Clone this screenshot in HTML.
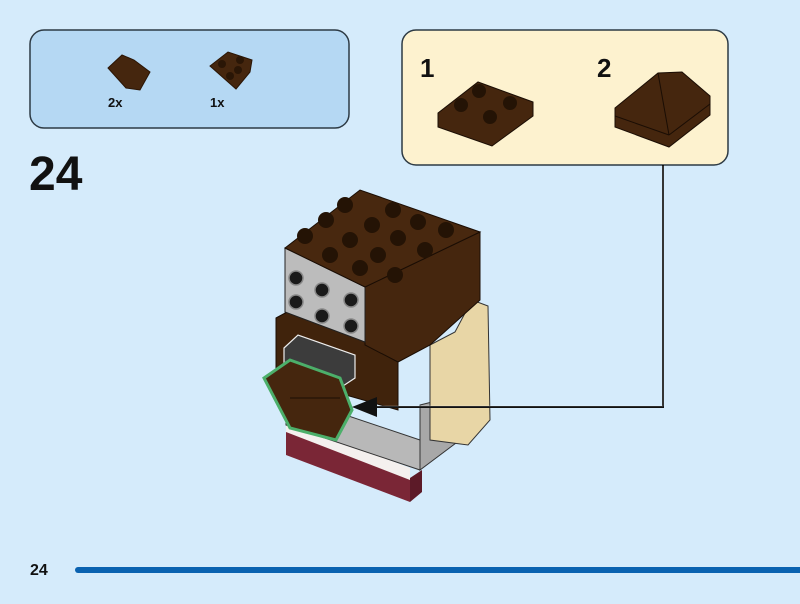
<!DOCTYPE html>
<html><head><style>
html,body{margin:0;padding:0;background:#d5ebfb;}
svg{display:block}
text{font-family:"Liberation Sans",sans-serif;font-weight:bold;fill:#111}
</style></head><body>
<svg width="800" height="604" viewBox="0 0 800 604" xmlns="http://www.w3.org/2000/svg">
<rect width="800" height="604" fill="#d5ebfb"/>
<!-- parts box -->
<rect x="30" y="30" width="319" height="98" rx="14" fill="#b5d8f3" stroke="#2d3a44" stroke-width="1.5"/>
<polygon points="108,68 122,55 134,60 150,72 140,90 126,88" fill="#45260e" stroke="#2a1505" stroke-width="1"/>
<polygon points="210,66 228,52 252,60 250,72 236,89" fill="#45260e" stroke="#2a1505" stroke-width="1"/>
<circle cx="222" cy="64" r="4" fill="#2a1606"/><circle cx="240" cy="60" r="4" fill="#2a1606"/><circle cx="238" cy="70" r="4" fill="#2a1606"/><circle cx="230" cy="76" r="4" fill="#2a1606"/>
<text x="108" y="107" font-size="13">2x</text>
<text x="210" y="107" font-size="13">1x</text>
<text x="29" y="190" font-size="48">24</text>
<!-- sub assembly box -->
<rect x="402" y="30" width="326" height="135" rx="14" fill="#fdf2cf" stroke="#2d3a44" stroke-width="1.5"/>
<text x="420" y="77" font-size="26">1</text>
<text x="597" y="77" font-size="26">2</text>
<polygon points="438,113 478,82 533,102 533,116 492,146 438,127" fill="#45260e" stroke="#1a0d04" stroke-width="1"/>
<circle cx="479" cy="91" r="7" fill="#241305"/><circle cx="461" cy="105" r="7" fill="#241305"/><circle cx="510" cy="103" r="7" fill="#241305"/><circle cx="490" cy="117" r="7" fill="#241305"/>
<polygon points="615,108 658,73 682,72 710,96 710,115 669,147 615,127" fill="#45260e" stroke="#1a0d04" stroke-width="1"/>
<line x1="615" y1="116" x2="669" y2="135" stroke="#1a0d04"/><line x1="669" y1="135" x2="710" y2="104" stroke="#1a0d04"/>
<line x1="658" y1="73" x2="669" y2="135" stroke="#1a0d04"/>
<!-- model -->
<polygon points="286,430 410,478 410,502 286,455" fill="#7a2636"/>
<polygon points="410,478 422,470 422,492 410,502" fill="#5c1a28"/>
<polygon points="286,420 410,468 410,480 286,432" fill="#f4f0ee"/>
<polygon points="286,395 420,440 420,470 286,425" fill="#b8b8b8" stroke="#333" stroke-width="1"/>
<polygon points="420,405 460,395 460,440 420,470" fill="#a8a8a8" stroke="#333" stroke-width="1"/>
<polygon points="430,345 455,332 472,300 488,306 490,420 468,445 430,440" fill="#e8d6a6" stroke="#333" stroke-width="1"/>
<polygon points="276,318 300,305 398,345 398,410 276,375" fill="#40230c" stroke="#1a0d04" stroke-width="1"/>
<polygon points="365,287 480,232 480,300 430,345 398,362 365,345" fill="#45260e" stroke="#1a0d04" stroke-width="1"/>
<polygon points="285,248 365,287 365,342 285,312" fill="#bcbcbc" stroke="#222" stroke-width="1"/>
<g fill="#1a1a1a" stroke="#888" stroke-width="1.5">
<circle cx="296" cy="278" r="7"/><circle cx="322" cy="290" r="7"/><circle cx="296" cy="302" r="7"/><circle cx="322" cy="316" r="7"/>
<circle cx="351" cy="300" r="7"/><circle cx="351" cy="326" r="7"/>
</g>
<polygon points="285,248 360,190 480,232 365,287" fill="#48280f" stroke="#1a0d04" stroke-width="1"/>
<g fill="#241305">
<circle cx="345" cy="205" r="8"/><circle cx="393" cy="210" r="8"/><circle cx="326" cy="220" r="8"/><circle cx="372" cy="225" r="8"/><circle cx="418" cy="222" r="8"/>
<circle cx="305" cy="236" r="8"/><circle cx="350" cy="240" r="8"/><circle cx="398" cy="238" r="8"/><circle cx="446" cy="230" r="8"/>
<circle cx="330" cy="255" r="8"/><circle cx="378" cy="255" r="8"/><circle cx="425" cy="250" r="8"/><circle cx="360" cy="268" r="8"/><circle cx="395" cy="275" r="8"/>
</g>
<polygon points="284,348 298,335 355,355 355,378 340,388 284,366" fill="#3c3c3c" stroke="#eee" stroke-width="1.2"/>
<polygon points="264,378 290,360 340,378 352,410 336,440 290,428" fill="#45260e" stroke="#4caf6a" stroke-width="3"/>
<line x1="290" y1="398" x2="340" y2="398" stroke="#1a0d04"/>
<!-- connector (on top) -->
<polyline points="663,165 663,407 372,407" fill="none" stroke="#111" stroke-width="2"/>
<polyline points="663,166 663,406 372,406" fill="none" stroke="#fff" stroke-width="0.6" opacity="0.5"/>
<polygon points="352,407 377,397 377,417" fill="#111"/>
<!-- footer -->
<text x="30" y="575" font-size="16">24</text>
<line x1="78" y1="570" x2="800" y2="570" stroke="#0a62b0" stroke-width="6" stroke-linecap="round"/>
</svg>
</body></html>
